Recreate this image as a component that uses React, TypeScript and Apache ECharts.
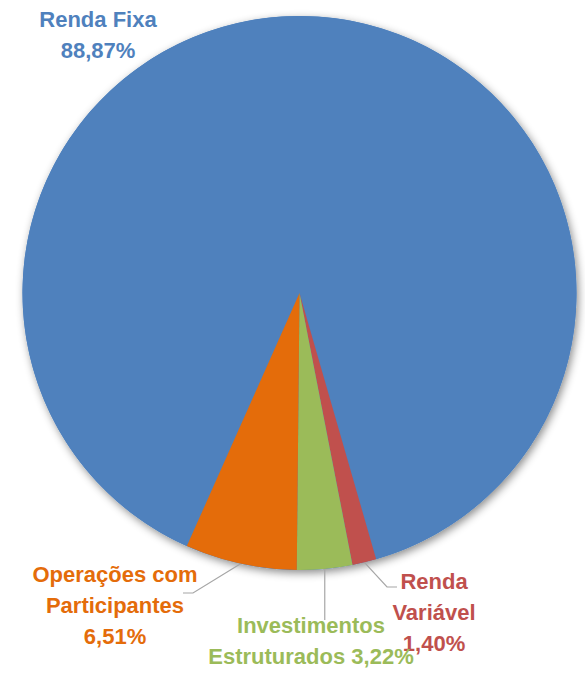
import React, { useEffect, useRef } from "react";
import * as echarts from "echarts";

const categories = ["Renda Fixa", "Renda Variável", "Investimentos Estruturados", "Operações com Participantes"];
const values = [88.87, 1.4, 3.22, 6.51];
const labelNames = ["Renda Fixa\n", "Renda\nVariável\n", "Investimentos\nEstruturados ", "Operações com\nParticipantes\n"];
const colors = ["#4F81BD", "#C0504D", "#9BBB59", "#E46C0A"];

// label placement (layout, not data)
const labelPos = [
  { x: 98, y: 35 },
  { x: 434, y: 612, elbow: [387, 587], end: [397, 587] },
  { x: 311, y: 641, endY: 620 },
  { x: 115, y: 605, elbow: [193, 593], end: [183, 593] },
];

const fmt = (v: number) => v.toFixed(2).replace(".", ",") + "%";

export default function App() {
  const ref = useRef<HTMLDivElement>(null);
  useEffect(() => {
    if (!ref.current) return;
    const chart = echarts.init(ref.current, undefined, { renderer: "svg" });
    const center = [299.5, 293];
    const radius = 277;
    chart.setOption({
      animation: false,
      backgroundColor: "#ffffff",
      series: [
        {
          type: "pie",
          silent: true,
          center,
          radius,
          z: 1,
          label: { show: false },
          labelLine: { show: false },
          data: [{ value: 1, name: "", itemStyle: { color: "#4F81BD", shadowBlur: 9, shadowOffsetX: 2, shadowOffsetY: 3, shadowColor: "rgba(0,0,0,0.45)" } }],
        },
        {
          type: "pie",
          center,
          radius,
          z: 2,
          startAngle: -114,
          clockwise: true,
          avoidLabelOverlap: false,
          data: categories.map((c, i) => ({
            name: c,
            value: values[i],
            itemStyle: { color: colors[i] },
            label: {
              show: true,
              formatter: () => labelNames[i] + fmt(values[i]),
              color: colors[i],
              fontFamily: "Liberation Sans, Arial, sans-serif",
              fontWeight: "bold",
              fontSize: 22,
              lineHeight: 31,
              align: "center",
            },
            labelLine: { show: i !== 0, lineStyle: { color: "#A6A6A6", width: 1.2 } },
          })),
          label: { position: "outside" },
          labelLine: { length: 10, length2: 10, smooth: false },
          labelLayout: (params: any) => {
            if (params.seriesIndex !== 1) return {};
            const i = params.dataIndex;
            const p = labelPos[i];
            const out: any = { x: p.x, y: p.y, align: "center", verticalAlign: "middle" };
            const pts = params.labelLinePoints;
            if (pts && pts.length && i !== 0) {
              const p0 = pts[0];
              if (p.elbow) out.labelLinePoints = [p0, p.elbow, p.end];
              else if (p.endY != null) out.labelLinePoints = [p0, [p0[0], p.endY], [p0[0], p.endY]];
            }
            return out;
          },
        },
      ],
    });
    return () => chart.dispose();
  }, []);
  return (
    <div
      ref={ref}
      style={{ position: "fixed", left: 0, top: 0, width: 585, height: 673 }}
    />
  );
}
